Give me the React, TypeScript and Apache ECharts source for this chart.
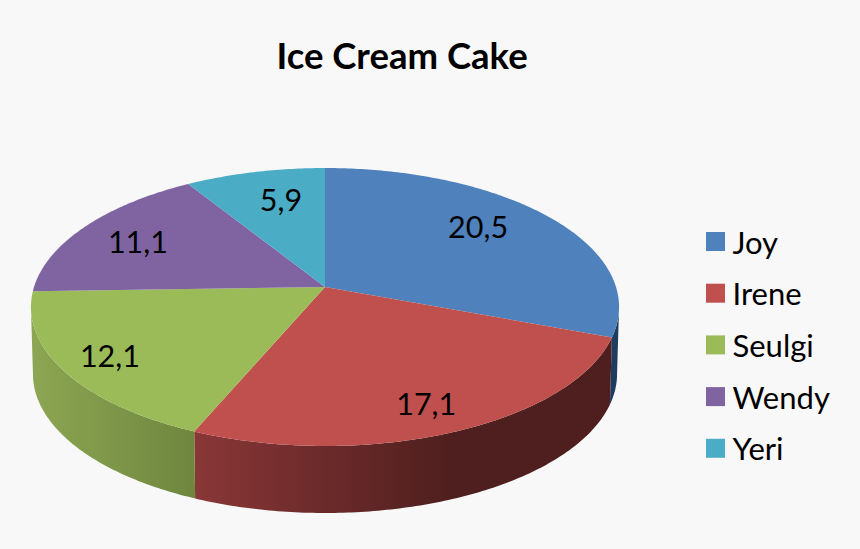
import React, { useEffect, useRef } from "react";
import * as echarts from "echarts";

const TITLE = "Ice Cream Cake";
const categories = ["Joy", "Irene", "Seulgi", "Wendy", "Yeri"];
const values = [20.5, 17.1, 12.1, 11.1, 5.9];
const labels = ["20,5", "17,1", "12,1", "11,1", "5,9"];
const topColors = ["#4f81bd", "#c0504d", "#9bbb59", "#8064a2", "#4bacc6"];
const labelRadius = [0.733, 0.826, 0.835, 0.759, 0.723];
const labelShift = [-5.3, 1.2, 0, -1, 2.6];

const FONT = "Lato";
const CX = 325;
const TOP_CY = 287;
const BOTTOM_CY = 354;
const TOP_A = 291;
const BOTTOM_A = 289;
const B = 136.1;
const K = 0.144;
const VIS_FROM = 98.3;
const VIS_TO = 261.7;

const total = values.reduce((s, v) => s + v, 0);
const rad = (d: number) => (d * Math.PI) / 180;

function project(deg: number, r: number, a: number, cy: number): number[] {
  const u = r * Math.sin(rad(deg));
  const v = -r * Math.cos(rad(deg));
  const d = 1 - K * v;
  return [CX + (a * u) / d, cy + (B * v) / d];
}

function arc(from: number, to: number, a: number, cy: number): number[][] {
  const pts: number[][] = [];
  const n = Math.max(1, Math.ceil(Math.abs(to - from) / 0.75));
  for (let i = 0; i <= n; i++) pts.push(project(from + ((to - from) * i) / n, 1, a, cy));
  return pts;
}

function wallFill(i: number): any {
  if (i === 0) return "#1f3c60";
  if (i === 1)
    return new echarts.graphic.LinearGradient(
      193, 0, 610, 0,
      [
        { offset: 0, color: "#8a3737" },
        { offset: 0.32, color: "#6b2a2a" },
        { offset: 0.62, color: "#4e1f1e" },
        { offset: 1, color: "#4e1f1e" },
      ],
      true
    );
  return new echarts.graphic.LinearGradient(
    31, 0, 195, 0,
    [
      { offset: 0, color: "#8ca653" },
      { offset: 1, color: "#6f863e" },
    ],
    true
  );
}

function renderSlice(i: number) {
  const start = (values.slice(0, i).reduce((s, v) => s + v, 0) / total) * 360;
  const end = start + (values[i] / total) * 360;
  const mid = (start + end) / 2 + labelShift[i];
  const children: any[] = [];
  const wFrom = Math.max(start, VIS_FROM);
  const wTo = Math.min(end, VIS_TO);
  if (wTo > wFrom) {
    children.push({
      type: "polygon",
      z2: 1,
      shape: {
        points: [...arc(wFrom, wTo, TOP_A, TOP_CY), ...arc(wTo, wFrom, BOTTOM_A, BOTTOM_CY)],
      },
      style: { fill: wallFill(i) },
    });
  }
  children.push({
    type: "polygon",
    z2: 2,
    shape: { points: [[CX, TOP_CY], ...arc(start, end, TOP_A, TOP_CY)] },
    style: { fill: topColors[i] },
  });
  const p = project(mid, labelRadius[i], TOP_A, TOP_CY);
  children.push({
    type: "text",
    z2: 3,
    x: p[0],
    y: p[1] - 1,
    style: {
      text: labels[i],
      fill: "#000",
      font: `30.5px ${FONT}`,
      align: "center",
      verticalAlign: "middle",
    },
  });
  return { type: "group", children };
}

export default function App() {
  const ref = useRef<HTMLDivElement>(null);
  useEffect(() => {
    const chart = echarts.init(ref.current!, null, { renderer: "svg" });
    chart.setOption({
      animation: false,
      backgroundColor: "#f8f8f8",
      title: {
        text: TITLE,
        left: 397,
        top: 31,
        textAlign: "center",
        textStyle: { fontFamily: FONT, fontSize: 36.5, fontWeight: "bold", color: "#000" },
      },
      legend: {
        orient: "vertical",
        left: 701,
        top: 221,
        icon: "rect",
        itemWidth: 19,
        itemHeight: 19,
        itemGap: 20.7,
        selectedMode: false,
        data: categories,
        textStyle: { fontFamily: FONT, fontSize: 31, color: "#000", padding: [0, 0, 0, 2.5] },
      },
      series: categories.map((name, i) => ({
        type: "custom",
        name,
        coordinateSystem: "none",
        silent: true,
        itemStyle: { color: topColors[i] },
        data: [values[i]],
        renderItem: () => renderSlice(i),
      })),
    });
    return () => chart.dispose();
  }, []);
  return <div ref={ref} style={{ position: "fixed", left: 0, top: 0, width: 860, height: 549 }} />;
}
